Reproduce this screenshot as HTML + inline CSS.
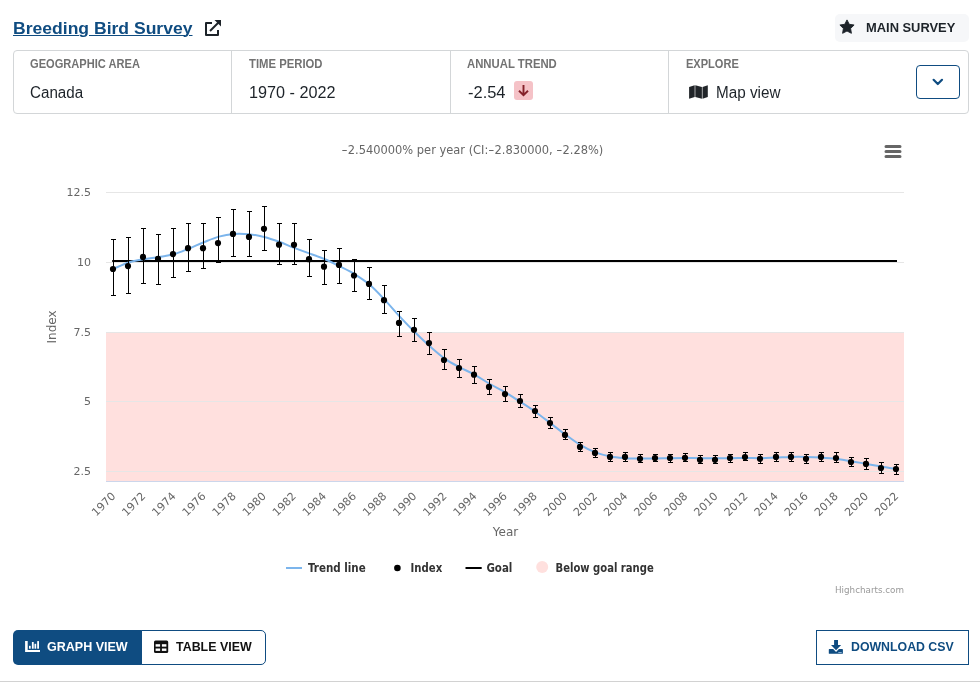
<!DOCTYPE html>
<html lang="en">
<head>
<meta charset="utf-8">
<title>Breeding Bird Survey</title>
<style>
html,body{margin:0;padding:0;background:#fff;}
body{width:980px;height:682px;position:relative;overflow:hidden;font-family:"Liberation Sans",sans-serif;color:#212529;}
.abs{position:absolute;white-space:nowrap;line-height:1;}
.t{display:inline-block;transform-origin:0 50%;}
svg.chart{position:absolute;left:0;top:0;}
.title{left:13px;top:20px;font-size:17px;font-weight:700;color:#0f4c81;}
.title .t{text-decoration:underline;text-decoration-thickness:1px;text-underline-offset:1px;}
.badge{left:835px;top:14px;width:134px;height:28px;background:#f6f7f9;border-radius:5px;}
.panel{left:13px;top:50px;width:954px;height:62px;border:1px solid #d3d6d8;border-radius:4px;}
.div{position:absolute;top:51px;width:1px;height:62px;background:#d3d6d8;}
.lab{font-size:12px;font-weight:700;color:#727272;top:58px;}
.val{font-size:16px;color:#1d2329;top:85px;}
.ddbtn{left:916px;top:65px;width:42px;height:32px;border:1px solid #0f4c81;border-radius:4px;}
.btn{font-size:13.5px;font-weight:700;top:640px;}
.bottomline{left:0;top:681px;width:980px;height:1px;background:#d2d2d2;}
</style>
</head>
<body>
<svg class="chart" width="980" height="682" viewBox="0 0 980 682">
<rect x="106" y="332" width="798" height="149.5" fill="#ffe0de"/>
<path d="M106 192.5 H904" stroke="#e6e6e6" stroke-width="1" fill="none"/>
<path d="M106 262.5 H904" stroke="#e6e6e6" stroke-width="1" fill="none"/>
<path d="M106 332.5 H904" stroke="#e6e6e6" stroke-width="1" fill="none"/>
<path d="M106 401.5 H904" stroke="#e6e6e6" stroke-width="1" fill="none"/>
<path d="M106 471.5 H904" stroke="#e6e6e6" stroke-width="1" fill="none"/>
<path d="M106 481.5 H904" stroke="#ccd6eb" stroke-width="1" fill="none"/>
<path d="M112.2 261 H897" stroke="#000" stroke-width="2" fill="none"/>
<path d="M113.5 268.8 C116.0 267.8 123.6 264.1 128.6 262.5 C133.6 260.9 138.6 260.1 143.6 259.2 C148.7 258.3 153.7 257.8 158.7 257.0 C163.7 256.2 168.7 255.7 173.8 254.3 C178.8 252.9 183.8 250.6 188.8 248.6 C193.8 246.6 198.9 244.2 203.9 242.2 C208.9 240.2 213.9 238.0 218.9 236.6 C223.9 235.2 229.0 234.3 234.0 233.9 C239.0 233.5 244.0 233.7 249.0 234.2 C254.1 234.7 259.1 235.7 264.1 237.0 C269.1 238.3 274.1 240.0 279.2 241.8 C284.2 243.6 289.2 246.0 294.2 247.9 C299.2 249.8 304.2 251.6 309.3 253.4 C314.3 255.2 319.3 256.9 324.3 259.0 C329.3 261.1 334.4 263.7 339.4 266.2 C344.4 268.7 349.4 271.0 354.4 274.1 C359.5 277.2 364.5 280.4 369.5 284.6 C374.5 288.9 379.5 294.3 384.5 299.6 C389.6 304.9 394.6 311.0 399.6 316.4 C404.6 321.8 409.6 327.1 414.7 332.0 C419.7 336.9 424.7 341.7 429.7 346.1 C434.7 350.5 439.8 355.1 444.8 358.6 C449.8 362.2 454.8 364.7 459.8 367.4 C464.9 370.1 469.9 372.0 474.9 374.8 C479.9 377.6 484.9 381.1 489.9 384.0 C495.0 386.9 500.0 389.2 505.0 392.2 C510.0 395.1 515.0 398.4 520.1 401.7 C525.1 404.9 530.1 408.1 535.1 411.7 C540.1 415.2 545.2 419.2 550.2 423.0 C555.2 426.8 560.2 430.8 565.2 434.4 C570.2 438.0 575.3 441.9 580.3 444.9 C585.3 447.9 590.3 450.5 595.3 452.4 C600.4 454.3 605.4 455.5 610.4 456.5 C615.4 457.5 620.4 457.8 625.5 458.2 C630.5 458.6 635.5 458.6 640.5 458.6 C645.5 458.6 650.5 458.5 655.6 458.4 C660.6 458.3 665.6 458.3 670.6 458.2 C675.6 458.1 680.7 458.0 685.7 458.0 C690.7 458.0 695.7 458.2 700.7 458.2 C705.8 458.2 710.8 458.2 715.8 458.2 C720.8 458.2 725.8 458.2 730.9 458.2 C735.9 458.2 740.9 458.0 745.9 458.0 C750.9 458.0 755.9 458.3 761.0 458.2 C766.0 458.1 771.0 457.8 776.0 457.6 C781.0 457.4 786.1 457.0 791.1 456.9 C796.1 456.8 801.1 456.8 806.1 456.9 C811.2 457.0 816.2 457.2 821.2 457.6 C826.2 458.0 831.2 458.4 836.2 459.0 C841.3 459.6 846.3 460.4 851.3 461.2 C856.3 462.0 861.3 463.0 866.4 463.9 C871.4 464.8 876.4 465.6 881.4 466.5 C886.4 467.4 894.0 468.6 896.5 469.0" stroke="#7cb5ec" stroke-width="2" fill="none" stroke-linejoin="round" stroke-linecap="round"/>
<path d="M113.5 239.0 V296.0 M111.0 239.5 h5 M111.0 295.5 h5 M128.5 237.0 V294.0 M126.0 237.5 h5 M126.0 293.5 h5 M143.5 228.0 V284.0 M141.0 228.5 h5 M141.0 283.5 h5 M158.5 234.0 V285.0 M156.0 234.5 h5 M156.0 284.5 h5 M173.5 228.0 V278.0 M171.0 228.5 h5 M171.0 277.5 h5 M188.5 223.0 V272.0 M186.0 223.5 h5 M186.0 271.5 h5 M203.5 223.0 V269.0 M201.0 223.5 h5 M201.0 268.5 h5 M218.5 217.0 V263.0 M216.0 217.5 h5 M216.0 262.5 h5 M233.5 209.0 V257.0 M231.0 209.5 h5 M231.0 256.5 h5 M249.5 211.0 V257.0 M247.0 211.5 h5 M247.0 256.5 h5 M264.5 206.0 V251.0 M262.0 206.5 h5 M262.0 250.5 h5 M279.5 223.0 V265.0 M277.0 223.5 h5 M277.0 264.5 h5 M294.5 223.0 V265.0 M292.0 223.5 h5 M292.0 264.5 h5 M309.5 239.0 V277.0 M307.0 239.5 h5 M307.0 276.5 h5 M324.5 250.0 V285.0 M322.0 250.5 h5 M322.0 284.5 h5 M339.5 248.0 V284.0 M337.0 248.5 h5 M337.0 283.5 h5 M354.5 259.0 V292.0 M352.0 259.5 h5 M352.0 291.5 h5 M369.5 267.0 V300.0 M367.0 267.5 h5 M367.0 299.5 h5 M384.5 285.0 V314.0 M382.0 285.5 h5 M382.0 313.5 h5 M399.5 311.0 V337.0 M397.0 311.5 h5 M397.0 336.5 h5 M414.5 318.0 V342.0 M412.0 318.5 h5 M412.0 341.5 h5 M429.5 332.0 V355.0 M427.0 332.5 h5 M427.0 354.5 h5 M444.5 349.0 V370.0 M442.0 349.5 h5 M442.0 369.5 h5 M459.5 359.0 V378.0 M457.0 359.5 h5 M457.0 377.5 h5 M474.5 366.0 V384.0 M472.0 366.5 h5 M472.0 383.5 h5 M489.5 379.0 V395.0 M487.0 379.5 h5 M487.0 394.5 h5 M505.5 386.0 V402.0 M503.0 386.5 h5 M503.0 401.5 h5 M520.5 394.0 V408.0 M518.0 394.5 h5 M518.0 407.5 h5 M535.5 405.0 V418.0 M533.0 405.5 h5 M533.0 417.5 h5 M550.5 417.0 V429.0 M548.0 417.5 h5 M548.0 428.5 h5 M565.5 429.0 V440.0 M563.0 429.5 h5 M563.0 439.5 h5 M580.5 442.0 V452.0 M578.0 442.5 h5 M578.0 451.5 h5 M595.5 448.0 V458.0 M593.0 448.5 h5 M593.0 457.5 h5 M610.5 452.0 V462.0 M608.0 452.5 h5 M608.0 461.5 h5 M625.5 452.0 V462.0 M623.0 452.5 h5 M623.0 461.5 h5 M640.5 454.0 V463.0 M638.0 454.5 h5 M638.0 462.5 h5 M655.5 454.0 V462.0 M653.0 454.5 h5 M653.0 461.5 h5 M670.5 454.0 V463.0 M668.0 454.5 h5 M668.0 462.5 h5 M685.5 453.0 V462.0 M683.0 453.5 h5 M683.0 461.5 h5 M700.5 455.0 V464.0 M698.0 455.5 h5 M698.0 463.5 h5 M715.5 455.0 V464.0 M713.0 455.5 h5 M713.0 463.5 h5 M730.5 454.0 V463.0 M728.0 454.5 h5 M728.0 462.5 h5 M745.5 452.0 V461.0 M743.0 452.5 h5 M743.0 460.5 h5 M760.5 454.0 V464.0 M758.0 454.5 h5 M758.0 463.5 h5 M776.5 452.0 V462.0 M774.0 452.5 h5 M774.0 461.5 h5 M791.5 452.0 V462.0 M789.0 452.5 h5 M789.0 461.5 h5 M806.5 454.0 V464.0 M804.0 454.5 h5 M804.0 463.5 h5 M821.5 452.0 V462.0 M819.0 452.5 h5 M819.0 461.5 h5 M836.5 452.0 V463.0 M834.0 452.5 h5 M834.0 462.5 h5 M851.5 457.0 V467.0 M849.0 457.5 h5 M849.0 466.5 h5 M866.5 458.0 V470.0 M864.0 458.5 h5 M864.0 469.5 h5 M881.5 462.0 V474.0 M879.0 462.5 h5 M879.0 473.5 h5 M896.5 464.0 V475.0 M894.0 464.5 h5 M894.0 474.5 h5" stroke="#000" stroke-width="1" fill="none"/>
<g fill="#000">
<circle cx="113" cy="269.0" r="3.1"/>
<circle cx="128" cy="266.1" r="3.1"/>
<circle cx="143" cy="256.9" r="3.1"/>
<circle cx="158" cy="258.8" r="3.1"/>
<circle cx="173" cy="254.1" r="3.1"/>
<circle cx="188" cy="248.2" r="3.1"/>
<circle cx="203" cy="248.2" r="3.1"/>
<circle cx="218" cy="243.1" r="3.1"/>
<circle cx="233" cy="233.9" r="3.1"/>
<circle cx="249" cy="236.9" r="3.1"/>
<circle cx="264" cy="228.8" r="3.1"/>
<circle cx="279" cy="244.7" r="3.1"/>
<circle cx="294" cy="244.8" r="3.1"/>
<circle cx="309" cy="259.2" r="3.1"/>
<circle cx="324" cy="266.7" r="3.1"/>
<circle cx="339" cy="264.9" r="3.1"/>
<circle cx="354" cy="275.5" r="3.1"/>
<circle cx="369" cy="283.9" r="3.1"/>
<circle cx="384" cy="300.2" r="3.1"/>
<circle cx="399" cy="322.9" r="3.1"/>
<circle cx="414" cy="329.8" r="3.1"/>
<circle cx="429" cy="343.1" r="3.1"/>
<circle cx="444" cy="360.0" r="3.1"/>
<circle cx="459" cy="368.0" r="3.1"/>
<circle cx="474" cy="374.7" r="3.1"/>
<circle cx="489" cy="386.9" r="3.1"/>
<circle cx="505" cy="394.1" r="3.1"/>
<circle cx="520" cy="401.0" r="3.1"/>
<circle cx="535" cy="411.0" r="3.1"/>
<circle cx="550" cy="423.1" r="3.1"/>
<circle cx="565" cy="434.9" r="3.1"/>
<circle cx="580" cy="446.9" r="3.1"/>
<circle cx="595" cy="452.9" r="3.1"/>
<circle cx="610" cy="456.9" r="3.1"/>
<circle cx="625" cy="456.9" r="3.1"/>
<circle cx="640" cy="458.8" r="3.1"/>
<circle cx="655" cy="458.0" r="3.1"/>
<circle cx="670" cy="458.0" r="3.1"/>
<circle cx="685" cy="457.8" r="3.1"/>
<circle cx="700" cy="459.8" r="3.1"/>
<circle cx="715" cy="459.8" r="3.1"/>
<circle cx="730" cy="458.0" r="3.1"/>
<circle cx="745" cy="457.1" r="3.1"/>
<circle cx="760" cy="458.8" r="3.1"/>
<circle cx="776" cy="456.9" r="3.1"/>
<circle cx="791" cy="456.9" r="3.1"/>
<circle cx="806" cy="458.8" r="3.1"/>
<circle cx="821" cy="456.9" r="3.1"/>
<circle cx="836" cy="458.0" r="3.1"/>
<circle cx="851" cy="462.0" r="3.1"/>
<circle cx="866" cy="463.9" r="3.1"/>
<circle cx="881" cy="468.0" r="3.1"/>
<circle cx="896" cy="469.0" r="3.1"/>
</g>
<text id="sub" transform="translate(341.6 154) scale(0.955 1)" x="0" y="0" font-family="DejaVu Sans, Liberation Sans, sans-serif" font-size="12" fill="#666"><tspan textLength="6.4" lengthAdjust="spacingAndGlyphs">-</tspan>2.540000% per year (CI:<tspan textLength="6.4" lengthAdjust="spacingAndGlyphs">-</tspan>2.830000, <tspan textLength="6.4" lengthAdjust="spacingAndGlyphs">-</tspan>2.28%)</text>
<path d="M886 146.5 H900 M886 151.5 H900 M886 156.5 H900" stroke="#666" stroke-width="3" stroke-linecap="round" fill="none"/>
<text x="91" y="195.7" text-anchor="end" font-family="DejaVu Sans, Liberation Sans, sans-serif" font-size="11" fill="#666">12.5</text>
<text x="91" y="265.7" text-anchor="end" font-family="DejaVu Sans, Liberation Sans, sans-serif" font-size="11" fill="#666">10</text>
<text x="91" y="335.8" text-anchor="end" font-family="DejaVu Sans, Liberation Sans, sans-serif" font-size="11" fill="#666">7.5</text>
<text x="91" y="405.2" text-anchor="end" font-family="DejaVu Sans, Liberation Sans, sans-serif" font-size="11" fill="#666">5</text>
<text x="91" y="475.4" text-anchor="end" font-family="DejaVu Sans, Liberation Sans, sans-serif" font-size="11" fill="#666">2.5</text>
<text x="0" y="0" transform="translate(55.5 327) rotate(-90)" text-anchor="middle" font-family="DejaVu Sans, Liberation Sans, sans-serif" font-size="12" fill="#666">Index</text>
<text x="0" y="0" transform="translate(116.1 496.9) rotate(-45)" text-anchor="end" font-family="DejaVu Sans, Liberation Sans, sans-serif" font-size="11" fill="#666">1970</text>
<text x="0" y="0" transform="translate(146.2 496.9) rotate(-45)" text-anchor="end" font-family="DejaVu Sans, Liberation Sans, sans-serif" font-size="11" fill="#666">1972</text>
<text x="0" y="0" transform="translate(176.4 496.9) rotate(-45)" text-anchor="end" font-family="DejaVu Sans, Liberation Sans, sans-serif" font-size="11" fill="#666">1974</text>
<text x="0" y="0" transform="translate(206.5 496.9) rotate(-45)" text-anchor="end" font-family="DejaVu Sans, Liberation Sans, sans-serif" font-size="11" fill="#666">1976</text>
<text x="0" y="0" transform="translate(236.6 496.9) rotate(-45)" text-anchor="end" font-family="DejaVu Sans, Liberation Sans, sans-serif" font-size="11" fill="#666">1978</text>
<text x="0" y="0" transform="translate(266.7 496.9) rotate(-45)" text-anchor="end" font-family="DejaVu Sans, Liberation Sans, sans-serif" font-size="11" fill="#666">1980</text>
<text x="0" y="0" transform="translate(296.8 496.9) rotate(-45)" text-anchor="end" font-family="DejaVu Sans, Liberation Sans, sans-serif" font-size="11" fill="#666">1982</text>
<text x="0" y="0" transform="translate(326.9 496.9) rotate(-45)" text-anchor="end" font-family="DejaVu Sans, Liberation Sans, sans-serif" font-size="11" fill="#666">1984</text>
<text x="0" y="0" transform="translate(357.0 496.9) rotate(-45)" text-anchor="end" font-family="DejaVu Sans, Liberation Sans, sans-serif" font-size="11" fill="#666">1986</text>
<text x="0" y="0" transform="translate(387.1 496.9) rotate(-45)" text-anchor="end" font-family="DejaVu Sans, Liberation Sans, sans-serif" font-size="11" fill="#666">1988</text>
<text x="0" y="0" transform="translate(417.3 496.9) rotate(-45)" text-anchor="end" font-family="DejaVu Sans, Liberation Sans, sans-serif" font-size="11" fill="#666">1990</text>
<text x="0" y="0" transform="translate(447.4 496.9) rotate(-45)" text-anchor="end" font-family="DejaVu Sans, Liberation Sans, sans-serif" font-size="11" fill="#666">1992</text>
<text x="0" y="0" transform="translate(477.5 496.9) rotate(-45)" text-anchor="end" font-family="DejaVu Sans, Liberation Sans, sans-serif" font-size="11" fill="#666">1994</text>
<text x="0" y="0" transform="translate(507.6 496.9) rotate(-45)" text-anchor="end" font-family="DejaVu Sans, Liberation Sans, sans-serif" font-size="11" fill="#666">1996</text>
<text x="0" y="0" transform="translate(537.7 496.9) rotate(-45)" text-anchor="end" font-family="DejaVu Sans, Liberation Sans, sans-serif" font-size="11" fill="#666">1998</text>
<text x="0" y="0" transform="translate(567.8 496.9) rotate(-45)" text-anchor="end" font-family="DejaVu Sans, Liberation Sans, sans-serif" font-size="11" fill="#666">2000</text>
<text x="0" y="0" transform="translate(597.9 496.9) rotate(-45)" text-anchor="end" font-family="DejaVu Sans, Liberation Sans, sans-serif" font-size="11" fill="#666">2002</text>
<text x="0" y="0" transform="translate(628.1 496.9) rotate(-45)" text-anchor="end" font-family="DejaVu Sans, Liberation Sans, sans-serif" font-size="11" fill="#666">2004</text>
<text x="0" y="0" transform="translate(658.2 496.9) rotate(-45)" text-anchor="end" font-family="DejaVu Sans, Liberation Sans, sans-serif" font-size="11" fill="#666">2006</text>
<text x="0" y="0" transform="translate(688.3 496.9) rotate(-45)" text-anchor="end" font-family="DejaVu Sans, Liberation Sans, sans-serif" font-size="11" fill="#666">2008</text>
<text x="0" y="0" transform="translate(718.4 496.9) rotate(-45)" text-anchor="end" font-family="DejaVu Sans, Liberation Sans, sans-serif" font-size="11" fill="#666">2010</text>
<text x="0" y="0" transform="translate(748.5 496.9) rotate(-45)" text-anchor="end" font-family="DejaVu Sans, Liberation Sans, sans-serif" font-size="11" fill="#666">2012</text>
<text x="0" y="0" transform="translate(778.6 496.9) rotate(-45)" text-anchor="end" font-family="DejaVu Sans, Liberation Sans, sans-serif" font-size="11" fill="#666">2014</text>
<text x="0" y="0" transform="translate(808.7 496.9) rotate(-45)" text-anchor="end" font-family="DejaVu Sans, Liberation Sans, sans-serif" font-size="11" fill="#666">2016</text>
<text x="0" y="0" transform="translate(838.8 496.9) rotate(-45)" text-anchor="end" font-family="DejaVu Sans, Liberation Sans, sans-serif" font-size="11" fill="#666">2018</text>
<text x="0" y="0" transform="translate(869.0 496.9) rotate(-45)" text-anchor="end" font-family="DejaVu Sans, Liberation Sans, sans-serif" font-size="11" fill="#666">2020</text>
<text x="0" y="0" transform="translate(899.1 496.9) rotate(-45)" text-anchor="end" font-family="DejaVu Sans, Liberation Sans, sans-serif" font-size="11" fill="#666">2022</text>
<text x="505.5" y="535.7" text-anchor="middle" font-family="DejaVu Sans, Liberation Sans, sans-serif" font-size="12" fill="#666">Year</text>
<path d="M286 568 H302" stroke="#7cb5ec" stroke-width="2"/>
<text x="308" y="571.8" font-family="DejaVu Sans Condensed, DejaVu Sans, Liberation Sans, sans-serif" font-size="12" font-weight="bold" fill="#333" textLength="57.7" lengthAdjust="spacingAndGlyphs">Trend line</text>
<circle cx="397.4" cy="568" r="3.3" fill="#000"/>
<text x="410.6" y="571.8" font-family="DejaVu Sans Condensed, DejaVu Sans, Liberation Sans, sans-serif" font-size="12" font-weight="bold" fill="#333" textLength="31.6" lengthAdjust="spacingAndGlyphs">Index</text>
<path d="M465.5 568 H481.7" stroke="#000" stroke-width="2"/>
<text x="486.4" y="571.8" font-family="DejaVu Sans Condensed, DejaVu Sans, Liberation Sans, sans-serif" font-size="12" font-weight="bold" fill="#333" textLength="26" lengthAdjust="spacingAndGlyphs">Goal</text>
<circle cx="542.2" cy="567" r="6" fill="#ffe0de"/>
<text x="555.5" y="571.8" font-family="DejaVu Sans Condensed, DejaVu Sans, Liberation Sans, sans-serif" font-size="12" font-weight="bold" fill="#333" textLength="98.2" lengthAdjust="spacingAndGlyphs">Below goal range</text>
<text x="904" y="593" text-anchor="end" font-family="DejaVu Sans, Liberation Sans, sans-serif" font-size="9" fill="#999" textLength="69" lengthAdjust="spacingAndGlyphs">Highcharts.com</text>
</svg>
<div class="abs title"><span class="t" id="t_title" style="transform:scaleX(1.0326)">Breeding Bird Survey</span></div>
<svg class="abs" style="left:203px;top:18px" width="20" height="20" viewBox="0 0 20 20"><path d="M9 5 H3 V17 H15 V12" fill="none" stroke="#1d2329" stroke-width="2" stroke-linejoin="round"/><path d="M7 13 L16 4" stroke="#1d2329" stroke-width="2" fill="none"/><path d="M11.5 2 H18 V8.5 Z" fill="#1d2329"/></svg>

<div class="abs badge"></div>
<svg class="abs" style="left:839px;top:19px" width="16" height="16" viewBox="0 0 16 16"><path d="M8 0.9 L10.25 5.3 L15.1 6 L11.6 9.45 L12.4 14.3 L8 12 L3.6 14.3 L4.4 9.45 L0.9 6 L5.75 5.3 Z" fill="#1d2329" stroke="#1d2329" stroke-width="0.9" stroke-linejoin="round"/></svg>
<div class="abs" style="left:866px;top:20.5px;font-size:13.5px;font-weight:700;color:#1d2329;"><span class="t" id="t_main" style="transform:scaleX(0.9548)">MAIN SURVEY</span></div>

<div class="abs panel"></div>
<div class="div" style="left:231px"></div>
<div class="div" style="left:450px"></div>
<div class="div" style="left:668px"></div>

<div class="abs lab" style="left:30px"><span class="t" id="t_l1" style="transform:scaleX(0.9251)">GEOGRAPHIC AREA</span></div>
<div class="abs lab" style="left:249px"><span class="t" id="t_l2" style="transform:scaleX(0.9421)">TIME PERIOD</span></div>
<div class="abs lab" style="left:467px"><span class="t" id="t_l3" style="transform:scaleX(0.9442)">ANNUAL TREND</span></div>
<div class="abs lab" style="left:686px"><span class="t" id="t_l4" style="transform:scaleX(0.9205)">EXPLORE</span></div>

<div class="abs val" style="left:30px"><span class="t" id="t_v1" style="transform:scaleX(0.9474)">Canada</span></div>
<div class="abs val" style="left:249px"><span class="t" id="t_v2" style="transform:scaleX(1.0128)">1970 - 2022</span></div>
<div class="abs val" style="left:468px"><span class="t" id="t_v3" style="transform:scaleX(1.0283)">-2.54</span></div>
<div class="abs" style="left:514px;top:81px;width:19px;height:19px;background:#f5c2c7;border-radius:3px;"></div>
<svg class="abs" style="left:514px;top:81px" width="19" height="19" viewBox="0 0 19 19"><path d="M9.5 3.9 V13.6 M5 9.8 L9.5 14.2 L14 9.8" fill="none" stroke="#842029" stroke-width="1.9" stroke-linecap="butt" stroke-linejoin="miter"/></svg>
<svg class="abs" style="left:689px;top:84px" width="20" height="16" viewBox="0 0 20 16"><path d="M0.1 3 L5.7 1.2 V12.9 L0.1 14.7 Z M6.3 1.2 L12.9 3 V14.7 L6.3 12.9 Z M13.5 3 L18.8 1.2 V12.9 L13.5 14.7 Z" fill="#212529"/></svg>
<div class="abs val" style="left:716px"><span class="t" id="t_v4" style="transform:scaleX(0.9545)">Map view</span></div>

<div class="abs ddbtn"></div>
<svg class="abs" style="left:930px;top:76px" width="16" height="12" viewBox="0 0 16 12"><path d="M3.6 3.8 L7.8 8 L12 3.8" fill="none" stroke="#0f4c81" stroke-width="2.2" stroke-linecap="round" stroke-linejoin="round"/></svg>

<!-- bottom buttons -->
<div class="abs" style="left:13px;top:630px;width:129px;height:35px;background:#0f4c81;border-radius:5px 0 0 5px;"></div>
<div class="abs" style="left:141px;top:630px;width:123px;height:33px;border:1px solid #0f4c81;border-radius:0 5px 5px 0;background:#fff;"></div>
<svg class="abs" style="left:25px;top:640px" width="16" height="13" viewBox="0 0 16 13"><path d="M0.1 1.1 h2.6 v9 h12.3 v1.9 h-14.9 z" fill="#fff"/><rect x="4" y="5.8" width="1.7" height="2.9" fill="#fff"/><rect x="6.9" y="2" width="1.8" height="6.7" fill="#fff"/><rect x="9.5" y="3.8" width="1.7" height="4.9" fill="#fff"/><rect x="12.2" y="1.1" width="1.8" height="7.6" fill="#fff"/></svg>
<div class="abs btn" style="left:47px;color:#fff;"><span class="t" id="t_b1" style="transform:scaleX(0.9274)">GRAPH VIEW</span></div>
<svg class="abs" style="left:154px;top:640px" width="15" height="14" viewBox="0 0 15 14"><rect x="0" y="0.5" width="14.2" height="12.5" rx="1.5" fill="#111"/><rect x="1.6" y="4.2" width="4.5" height="2.45" fill="#fff"/><rect x="7.9" y="4.2" width="4.5" height="2.45" fill="#fff"/><rect x="1.6" y="8.5" width="4.5" height="2.4" fill="#fff"/><rect x="7.9" y="8.5" width="4.5" height="2.4" fill="#fff"/></svg>
<div class="abs btn" style="left:176px;color:#111;"><span class="t" id="t_b2" style="transform:scaleX(0.9204)">TABLE VIEW</span></div>

<div class="abs" style="left:816px;top:630px;width:151px;height:33px;border:1px solid #0f4c81;background:#fff;"></div>
<svg class="abs" style="left:828px;top:639px" width="16" height="16" viewBox="0 0 16 16"><path d="M6.1 0.9 H10 V6 H13.1 L8.05 11.2 L3 6 H6.1 Z" fill="#0f4c81"/><path d="M1.4 10.1 H5.2 L8.05 12.9 L10.9 10.1 H14.3 q0.6 0 0.6 0.6 V14.2 q0 0.6 -0.6 0.6 H1.4 q-0.6 0 -0.6 -0.6 V10.7 q0 -0.6 0.6 -0.6 Z" fill="#0f4c81"/><rect x="10.3" y="13" width="3.4" height="0.9" fill="#9fc3e6"/></svg>
<div class="abs btn" style="left:851px;color:#0f4c81;"><span class="t" id="t_b3" style="transform:scaleX(0.9129)">DOWNLOAD CSV</span></div>

<div class="abs bottomline"></div>
</body>
</html>
